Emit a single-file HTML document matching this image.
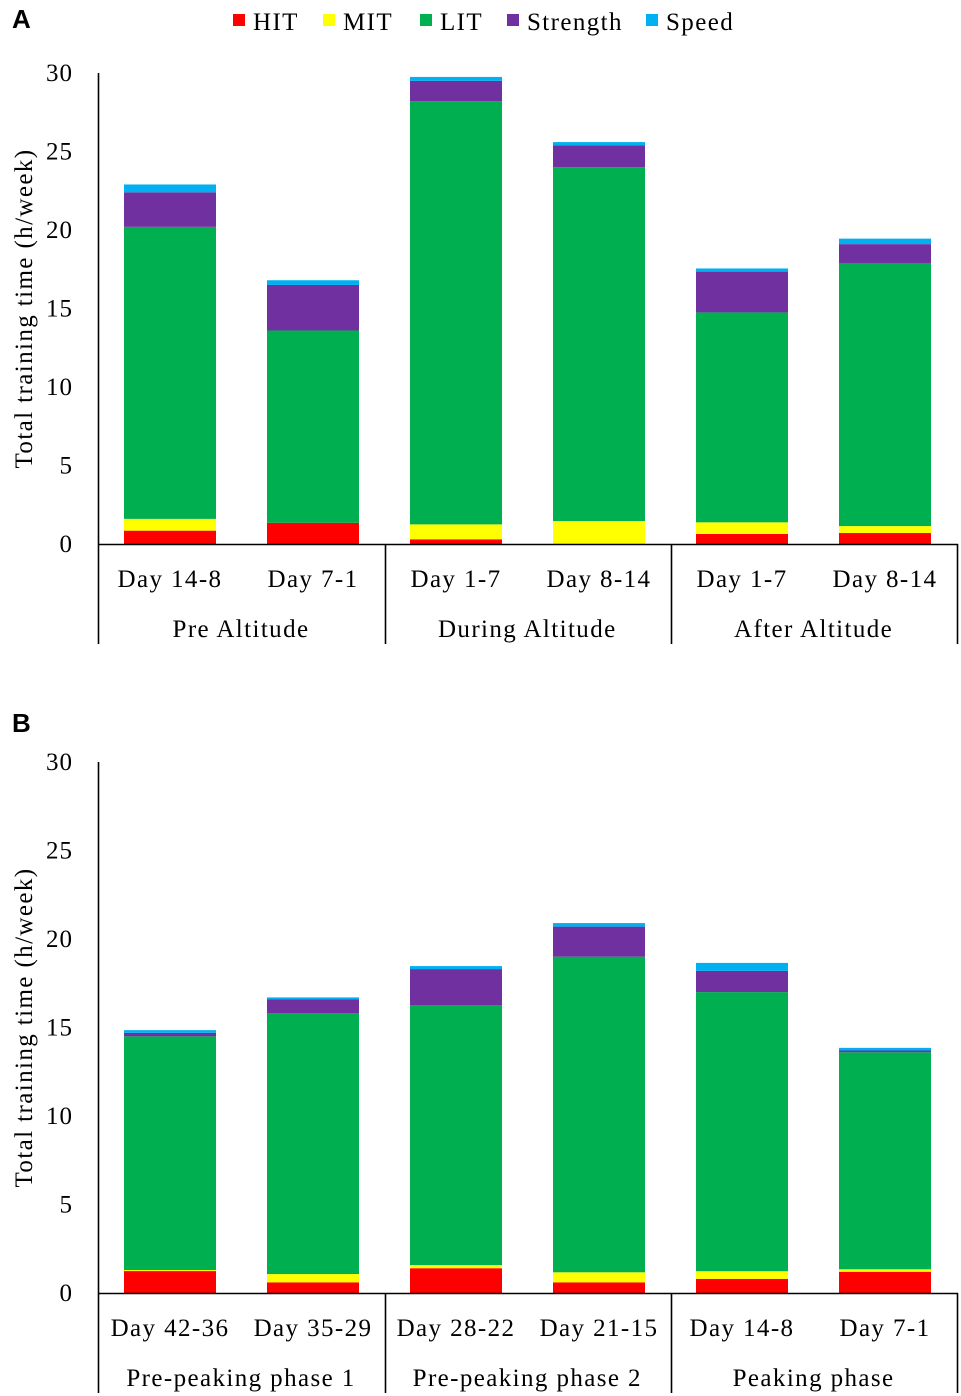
<!DOCTYPE html>
<html><head><meta charset="utf-8"><style>
body{margin:0;background:#fff}
svg{display:block;font-family:"Liberation Serif",serif}
</style></head><body>
<svg id="c" width="961" height="1396" viewBox="0 0 961 1396" xmlns="http://www.w3.org/2000/svg"></svg>
<script>
const seriesNames=["HIT","MIT","LIT","Strength","Speed"];
const colors=["#ff0000","#ffff00","#00b050","#7030a0","#00b0f0"];
const ticks=[0,5,10,15,20,25,30];
const catsA=["Day 14-8","Day 7-1","Day 1-7","Day 8-14","Day 1-7","Day 8-14"];
const groupsA=["Pre Altitude","During Altitude","After Altitude"];
const hitA=[0.85,1.35,0.3,0,0.64,0.7];
const mitA=[0.75,0,0.95,1.46,0.74,0.44];
const litA=[18.6,12.25,26.95,22.54,13.37,16.76];
const strA=[2.2,2.9,1.3,1.4,2.6,1.2];
const spdA=[0.5,0.3,0.25,0.2,0.2,0.35];
const catsB=["Day 42-36","Day 35-29","Day 28-22","Day 21-15","Day 14-8","Day 7-1"];
const groupsB=["Pre-peaking phase 1","Pre-peaking phase 2","Peaking phase"];
const hitB=[1.24,0.6,1.4,0.6,0.8,1.2];
const mitB=[0.06,0.47,0.18,0.57,0.43,0.14];
const litB=[13.2,14.73,14.69,17.83,15.77,12.26];
const strB=[0.2,0.8,2.03,1.7,1.2,0.1];
const spdB=[0.15,0.1,0.17,0.2,0.45,0.15];
const svg=document.getElementById('c');
const NS="http://www.w3.org/2000/svg";
function mk(tag,attrs,parent){const e=document.createElementNS(NS,tag);for(const k in attrs)e.setAttribute(k,attrs[k]);(parent||svg).appendChild(e);return e;}
function txt(x,y,s,size,anchor,parent,extra){const t=mk('text',Object.assign({x:x,y:y,'font-size':size,'text-anchor':anchor||'middle',fill:'#000','letter-spacing':'1.4'},extra||{}),parent);t.textContent=s;return t;}
function chart(key,y0,y30,cats,groups,series,panel,py){
  const g=mk('g',{});
  
  
  const yS=v=>y0-(y0-y30)*v/30;
  const xS=i=>124+143*i;
  const pl=txt(12,py,panel,26,'start',g,{'font-family':'Liberation Sans,sans-serif','font-weight':'bold','letter-spacing':'0'});
  
  
  ticks.forEach(t=>{const e=txt(73,yS(t)+8,String(t),25,'end',g,{'letter-spacing':'1'});
    
    });
  const yt=txt(0,0,'Total training time (h/week)',25,'middle',g,{transform:`translate(32,${(y0+y30)/2}) rotate(-90)`});
  
  
  cats.forEach((c,i)=>{let acc=0;
    series.forEach((s,k)=>{const v=s[i];if(v<=0)return;
      const r=mk('rect',{x:xS(i),y:yS(acc+v),width:92,height:yS(acc)-yS(acc+v),fill:colors[k]},g);
      
      
      acc+=v;});
    const cl=txt(xS(i)+46,y0+43,c,25,'middle',g);
    
    
  });
  groups.forEach((gn,j)=>{const e=txt(98+286.3*j+143,y0+93,gn,25,'middle',g);
    
    });
  const ax=mk('path',{d:`M98.5 ${y30}V${y0+100}M98 ${y0+0.5}H958M385.5 ${y0}V${y0+100}M671.5 ${y0}V${y0+100}M957.5 ${y0}V${y0+100}`,stroke:'#000','stroke-width':1.6,fill:'none'},g);
  
  
}
chart('a',544,73,catsA,groupsA,[hitA,mitA,litA,strA,spdA],'A',28);
chart('b',1293,762,catsB,groupsB,[hitB,mitB,litB,strB,spdB],'B',732);
const lx=[233,323,420,507,646];
seriesNames.forEach((n,k)=>{
  const g=mk('g',{});
  
  
  mk('rect',{x:lx[k],y:14,width:12,height:12,fill:colors[k]},g);
  txt(lx[k]+20,30,n,25,'start',g);
});
</script>
</body></html>
